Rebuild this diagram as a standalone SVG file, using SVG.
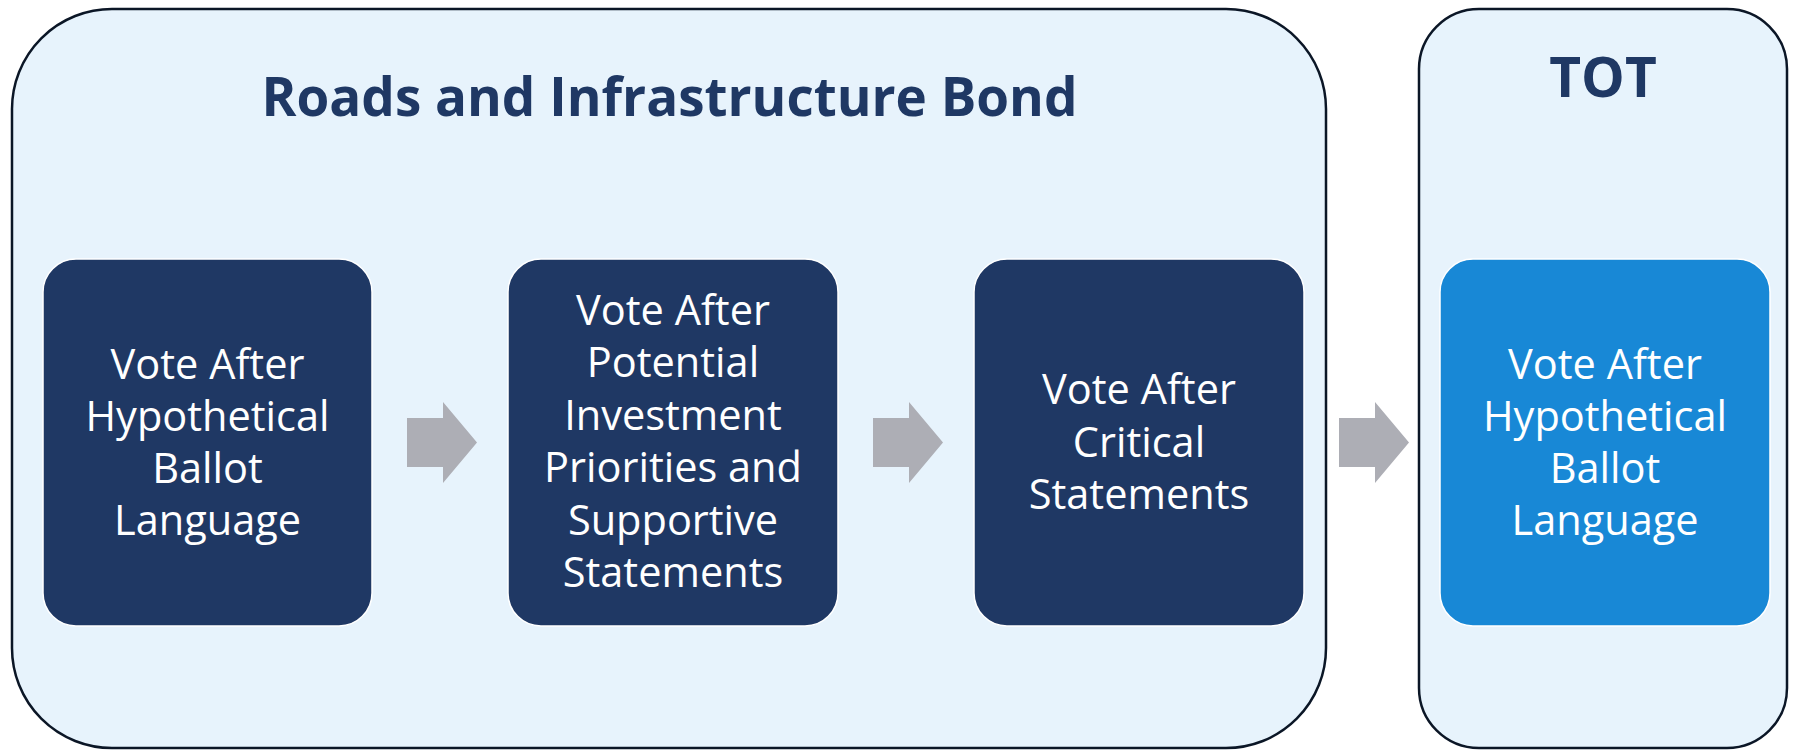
<svg xmlns="http://www.w3.org/2000/svg" width="1794" height="750" viewBox="0 0 1794 750">
  <defs>
    <style>
      .container { fill: #E7F3FC; stroke: #0B1626; stroke-width: 2.5; }
      .node { stroke: #FFFFFF; stroke-width: 1.5; }
      .dark { fill: #1F3864; }
      .light { fill: #1888D6; }
      .title { font-family: "Open Sans", "Liberation Sans", sans-serif; font-weight: bold; fill: #1F3864; text-anchor: middle; }
      .label { font-family: "Open Sans", "Liberation Sans", sans-serif; font-size: 41.5px; fill: #FFFFFF; text-anchor: middle; }
      .arrow { fill: #ADAEB5; }
    </style>
  </defs>
  <rect width="1794" height="750" fill="#FFFFFF"/>

  <g id="group-bond">
    <rect class="container" x="12" y="9" width="1314" height="739" rx="100" ry="100"/>
    <text class="title" x="669.5" y="116" font-size="53">Roads and Infrastructure Bond</text>
  </g>

  <g id="group-tot">
    <rect class="container" x="1419" y="9" width="368" height="739" rx="60" ry="60"/>
    <text class="title" x="1603" y="97" font-size="55">TOT</text>
  </g>

  <g id="node-bond-ballot">
    <rect class="node dark" x="43" y="259" width="329" height="367" rx="33" ry="33"/>
    <text class="label" x="207.5" y="379">Vote After</text>
    <text class="label" x="207.5" y="431">Hypothetical</text>
    <text class="label" x="207.5" y="483">Ballot</text>
    <text class="label" x="207.5" y="535">Language</text>
  </g>

  <g id="node-bond-priorities">
    <rect class="node dark" x="508" y="259" width="330" height="367" rx="33" ry="33"/>
    <text class="label" x="673" y="325">Vote After</text>
    <text class="label" x="673" y="377">Potential</text>
    <text class="label" x="673" y="430">Investment</text>
    <text class="label" x="673" y="482">Priorities and</text>
    <text class="label" x="673" y="535">Supportive</text>
    <text class="label" x="673" y="587">Statements</text>
  </g>

  <g id="node-bond-critical">
    <rect class="node dark" x="974" y="259" width="330" height="367" rx="33" ry="33"/>
    <text class="label" x="1139" y="404">Vote After</text>
    <text class="label" x="1139" y="457">Critical</text>
    <text class="label" x="1139" y="509">Statements</text>
  </g>

  <g id="node-tot-ballot">
    <rect class="node light" x="1440" y="259" width="330" height="367" rx="33" ry="33"/>
    <text class="label" x="1605" y="379">Vote After</text>
    <text class="label" x="1605" y="431">Hypothetical</text>
    <text class="label" x="1605" y="483">Ballot</text>
    <text class="label" x="1605" y="535">Language</text>
  </g>

  <g id="connectors">
    <polygon class="arrow" points="407,418 443,418 443,402 477,442.5 443,483 443,467 407,467"/>
    <polygon class="arrow" points="873,418 909,418 909,402 943,442.5 909,483 909,467 873,467"/>
    <polygon class="arrow" points="1339,418 1375,418 1375,402 1409,442.5 1375,483 1375,467 1339,467"/>
  </g>
</svg>
